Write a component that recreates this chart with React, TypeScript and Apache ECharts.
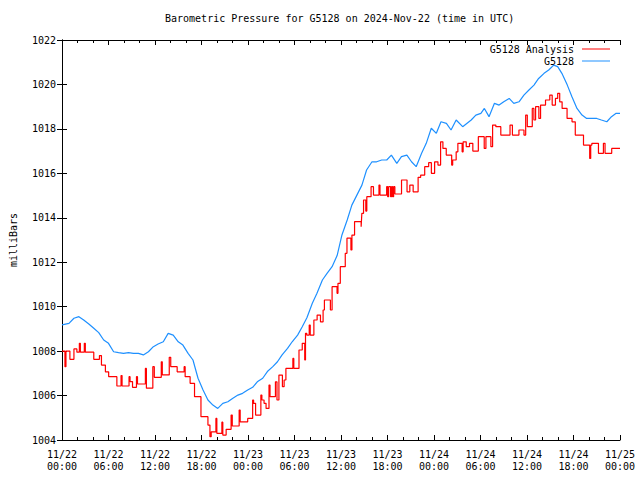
import React, { useEffect, useRef } from "react";
import * as echarts from "echarts";

const titleText = "Barometric Pressure for G5128 on 2024-Nov-22 (time in UTC)";
const yAxisName = "milliBars";
const seriesNames = ["G5128 Analysis", "G5128"];
const dayLabels = ["11/22", "11/23", "11/24", "11/25"];

// hours since 2024-11-22 00:00 UTC
const blueHours = [
  0, 0.9, 1.54, 2.18, 2.8, 3.46, 4.1, 4.74, 5.38, 6.0, 6.66, 7.3, 7.94, 8.58, 9.22, 9.86,
  10.5, 11.15, 11.79, 12.4, 13.07, 13.7, 14.35, 15.0, 15.6, 16.27, 16.9, 17.55, 18.2, 18.83,
  19.47, 20.1, 20.75, 21.4, 22.0, 22.7, 23.3, 23.96, 24.6, 25.2, 25.9, 26.5, 27.2, 27.8,
  28.4, 29.1, 29.7, 30.4, 31.0, 31.6, 32.3, 32.9, 33.6, 34.2, 34.85, 35.5, 36.1, 36.8, 37.4,
  38.05, 38.7, 39.3, 40.0, 40.6, 41.25, 41.9, 42.5, 43.2, 43.8, 44.5, 45.1, 45.7, 46.4, 47.0,
  47.65, 48.3, 48.9, 49.6, 50.2, 50.86, 51.7, 52.8, 53.4, 54.05, 54.5, 55.1, 55.8, 56.4,
  57.0, 57.7, 58.3, 58.97, 59.6, 60.25, 60.9, 61.5, 62.2, 62.8, 63.45, 63.96, 64.5, 65.2,
  65.8, 66.45, 67.1, 67.7, 68.4, 69.0, 69.6, 70.3, 70.9, 71.5, 72.0,
];
const blueValues = [
  1009.18, 1009.25, 1009.48, 1009.55, 1009.4, 1009.22, 1009.03, 1008.83, 1008.5, 1008.35,
  1007.97, 1007.93, 1007.9, 1007.93, 1007.9, 1007.9, 1007.83, 1007.97, 1008.2, 1008.32,
  1008.42, 1008.8, 1008.72, 1008.42, 1008.27, 1007.9, 1007.6, 1006.78, 1006.25, 1005.8,
  1005.57, 1005.42, 1005.65, 1005.72, 1005.87, 1006.02, 1006.1, 1006.25, 1006.37, 1006.62,
  1006.78, 1007.08, 1007.3, 1007.52, 1007.83, 1008.12, 1008.42, 1008.72, 1009.1, 1009.5,
  1010.15, 1010.6, 1011.2, 1011.5, 1011.8, 1012.3, 1013.2, 1013.9, 1014.57, 1015.02,
  1015.47, 1016.15, 1016.52, 1016.52, 1016.6, 1016.6, 1016.82, 1016.45, 1016.75, 1016.82,
  1016.52, 1016.3, 1016.9, 1017.35, 1018.03, 1017.8, 1018.32, 1018.25, 1017.95, 1018.4,
  1018.1, 1018.4, 1018.62, 1018.7, 1018.92, 1018.55, 1019.15, 1019.07, 1019.22, 1019.37,
  1019.15, 1019.22, 1019.52, 1019.75, 1019.97, 1020.27, 1020.5, 1020.65, 1020.87, 1020.8,
  1020.5, 1019.97, 1019.45, 1018.92, 1018.62, 1018.47, 1018.47, 1018.47, 1018.4, 1018.32,
  1018.55, 1018.7, 1018.7,
];

const redHours = [
  0, 0.38, 0.51, 1.02, 1.54, 1.92, 2.24, 2.37, 2.88, 3.01, 4.1, 4.83, 5.09, 5.6, 6.02, 7.08,
  7.62, 7.75, 8.65, 8.78, 9.1, 9.61, 9.74, 10.76, 10.89, 11.72, 11.91, 12.81, 12.94, 13.84,
  14.03, 14.86, 15.76, 15.89, 16.53, 17.1, 17.93, 18.83, 19.09, 19.25, 19.86, 19.98, 20.63,
  20.75, 21.18, 21.82, 21.97, 22.86, 22.99, 23.96, 24.6, 24.72, 24.98, 25.66, 25.79, 26.07,
  26.33, 26.71, 26.84, 27.54, 27.74, 27.99, 28.44, 28.66, 28.89, 29.79, 29.91, 30.58, 31.0,
  31.32, 31.42, 31.58, 31.9, 32.03, 32.5, 32.92, 33.35, 33.69, 33.86, 34.63, 34.85, 35.49,
  35.61, 35.91, 36.55, 36.77, 37.28, 37.41, 37.75, 38.6, 38.69, 38.91, 39.2, 39.33, 39.88,
  40.19, 40.9, 41.03, 41.89, 42.02, 42.15, 42.4, 42.53, 42.66, 42.79, 42.95, 43.81, 44.52,
  44.88, 45.31, 45.95, 46.28, 46.8, 47.31, 47.66, 48.08, 48.51, 48.85, 49.15, 49.58, 50.28,
  50.41, 50.86, 51.08, 51.63, 51.76, 52.16, 52.58, 53.01, 53.72, 54.48, 54.7, 55.34, 55.56,
  55.98, 56.62, 57.81, 58.12, 58.96, 59.61, 59.83, 60.04, 60.68, 60.89, 61.11, 61.53, 61.75,
  62.39, 62.94, 63.25, 63.67, 63.96, 64.22, 64.53, 65.17, 65.81, 66.23, 67.29, 68.09, 68.22,
  68.37, 69.22, 69.86, 70.07, 70.93, 72.0,
];
const redValues = [
  1008.0, 1007.3, 1008.0, 1007.63, 1008.1, 1007.95, 1008.35, 1007.95, 1008.35, 1007.95,
  1007.63, 1007.8, 1007.37, 1007.07, 1006.85, 1006.43, 1006.9, 1006.43, 1006.85, 1006.63,
  1006.37, 1006.85, 1006.52, 1007.22, 1006.33, 1007.3, 1006.82, 1007.52, 1006.93, 1007.72,
  1007.3, 1007.07, 1007.3, 1006.85, 1006.55, 1005.95, 1005.05, 1004.67, 1004.15, 1004.37,
  1004.97, 1004.3, 1004.8, 1004.22, 1004.48, 1005.12, 1004.63, 1005.35, 1004.82, 1004.97,
  1005.8, 1005.65, 1005.12, 1006.02, 1005.8, 1005.65, 1005.42, 1006.47, 1005.95, 1006.62,
  1005.8, 1006.92, 1006.4, 1006.7, 1007.22, 1007.67, 1007.22, 1008.05, 1008.35, 1007.6,
  1008.8, 1008.72, 1009.17, 1008.72, 1009.4, 1009.62, 1009.32, 1009.85, 1010.3, 1009.85,
  1010.9, 1010.6, 1011.05, 1011.8, 1012.4, 1013.08, 1012.55, 1013.22, 1013.83, 1013.6,
  1014.2, 1014.8, 1014.3, 1014.95, 1015.4, 1015.02, 1015.47, 1015.02, 1015.4, 1014.95,
  1015.4, 1014.95, 1015.4, 1014.95, 1015.4, 1015.07, 1015.7, 1015.17, 1015.47, 1015.17,
  1015.82, 1015.92, 1016.3, 1016.48, 1016.0, 1016.52, 1016.37, 1017.42, 1017.12, 1016.82,
  1016.37, 1016.6, 1016.97, 1017.35, 1016.97, 1017.42, 1017.2, 1017.35, 1017.0, 1017.65,
  1017.12, 1017.65, 1017.2, 1018.17, 1018.1, 1017.72, 1018.17, 1017.72, 1017.95, 1017.72,
  1018.62, 1018.1, 1018.92, 1018.4, 1019.0, 1018.47, 1019.07, 1019.3, 1019.52, 1019.07,
  1019.37, 1019.6, 1019.22, 1018.92, 1018.47, 1018.32, 1017.72, 1017.27, 1016.67, 1017.27,
  1017.35, 1016.9, 1017.35, 1016.9, 1017.12, 1017.12,
];

const FONT = "DejaVu Sans Mono";

function fmtHour(v: number): string {
  const day = Math.floor(v / 24);
  const hh = Math.round(v - day * 24);
  return `${dayLabels[day]}\n${String(hh).padStart(2, "0")}:00`;
}

export default function App() {
  const ref = useRef<HTMLDivElement>(null);
  useEffect(() => {
    if (!ref.current) return;
    const chart = echarts.init(ref.current, null, { renderer: "svg" });
    const axisLineStyle = { color: "#000", width: 1 };
    chart.setOption({
      animation: false,
      backgroundColor: "#fff",
      title: {
        text: titleText,
        left: 165,
        top: 13,
        padding: 0,
        textStyle: { fontFamily: FONT, fontSize: 10, fontWeight: "normal", color: "#000" },
      },
      legend: {
        orient: "vertical",
        right: 30,
        top: 44,
        padding: 0,
        align: "right",
        itemWidth: 28,
        itemHeight: 1,
        itemGap: 2,
        icon: "rect",
        data: seriesNames,
        textStyle: { fontFamily: FONT, fontSize: 10, color: "#000", padding: [0, 3, 0, 0] },
      },
      grid: { left: 58, right: 20, top: 40, bottom: 40, containLabel: false, show: false },
      xAxis: [
        {
          type: "value",
          min: 0,
          max: 72,
          interval: 6,
          axisLine: { show: true, lineStyle: axisLineStyle },
          axisTick: { show: true, inside: true, length: 5, lineStyle: axisLineStyle },
          minorTick: { show: true, splitNumber: 3, length: 3, lineStyle: axisLineStyle },
          splitLine: { show: false },
          axisLabel: {
            formatter: fmtHour,
            fontFamily: FONT,
            fontSize: 10,
            color: "#000",
            lineHeight: 12,
            margin: 8,
            showMinLabel: true,
            showMaxLabel: true,
          },
        },
        {
          type: "value",
          position: "top",
          min: 0,
          max: 72,
          interval: 6,
          axisLine: { show: true, lineStyle: axisLineStyle },
          axisTick: { show: true, inside: true, length: 5, lineStyle: axisLineStyle },
          minorTick: { show: true, splitNumber: 3, length: 3, lineStyle: axisLineStyle },
          splitLine: { show: false },
          axisLabel: { show: false },
        },
      ],
      yAxis: [
        {
          type: "value",
          min: 1004,
          max: 1022,
          interval: 2,
          name: yAxisName,
          nameLocation: "middle",
          nameGap: 44,
          nameRotate: 90,
          nameTextStyle: { fontFamily: FONT, fontSize: 10, color: "#000" },
          axisLine: { show: true, lineStyle: axisLineStyle },
          axisTick: { show: true, inside: true, length: 5, lineStyle: axisLineStyle },
          splitLine: { show: false },
          axisLabel: {
            formatter: (v: number) => String(v),
            fontFamily: FONT,
            fontSize: 10,
            color: "#000",
            margin: 6,
          },
        },
        {
          type: "value",
          position: "right",
          min: 1004,
          max: 1022,
          interval: 2,
          axisLine: { show: true, lineStyle: axisLineStyle },
          axisTick: { show: true, inside: true, length: 5, lineStyle: axisLineStyle },
          splitLine: { show: false },
          axisLabel: { show: false },
        },
      ],
      series: [
        {
          name: seriesNames[0],
          type: "line",
          step: "end",
          symbol: "none",
          color: "#ff0000",
          lineStyle: { width: 1.2, color: "#ff0000" },
          data: redHours.map((h, i) => [h, redValues[i]]),
        },
        {
          name: seriesNames[1],
          type: "line",
          symbol: "none",
          color: "#1e90ff",
          lineStyle: { width: 1.2, color: "#1e90ff" },
          data: blueHours.map((h, i) => [h, blueValues[i]]),
        },
      ],
    });
    return () => chart.dispose();
  }, []);
  return <div ref={ref} style={{ width: 640, height: 480, position: "absolute", left: 0, top: 0 }} />;
}
